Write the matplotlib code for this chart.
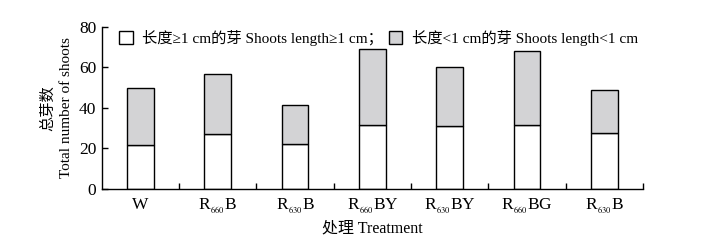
import matplotlib
matplotlib.use('Agg')
import matplotlib.pyplot as plt
import numpy as np

plt.rcParams['font.family'] = ['Liberation Serif', 'Noto Sans CJK SC']
plt.rcParams['mathtext.fontset'] = 'stix'

treatments = ["W", r"R$_{_{660}}$B", r"R$_{_{630}}$B", r"R$_{_{660}}$BY",
              r"R$_{_{630}}$BY", r"R$_{_{660}}$BG", r"R$_{_{630}}$B"]
long_shoots = [21.5, 27, 22, 31.4, 31, 31.4, 27.5]
total_shoots = [49.7, 56.6, 41.3, 69, 60.1, 68, 48.9]
short_shoots = [t - l for t, l in zip(total_shoots, long_shoots)]

label_long = "长度≥1 cm的芽 Shoots length≥1 cm；"
label_short = "长度<1 cm的芽 Shoots length<1 cm"

fig = plt.figure(figsize=(7.17, 2.41), dpi=100)
ax = fig.add_axes([0.142, 0.216, 0.755, 0.672])

x = np.arange(len(treatments))
ax.bar(x, long_shoots, width=0.345, color='white', edgecolor='black',
       linewidth=1.0, label=label_long)
ax.bar(x, short_shoots, width=0.345, bottom=long_shoots, color='#d3d3d5',
       edgecolor='black', linewidth=1.0, label=label_short)

ax.set_xlim(-0.5, len(treatments) - 0.5)
ax.set_ylim(0, 80)
ax.set_yticks([0, 20, 40, 60, 80])
ax.set_xticks(x)
ax.set_xticklabels(treatments, fontsize=12.5)
ax.tick_params(axis='x', which='major', length=0, pad=6)
ax.set_xticks(np.arange(0.5, len(treatments)), minor=True)
ax.tick_params(axis='x', which='minor', direction='in', length=4, width=1)
ax.tick_params(axis='y', direction='in', length=4, width=1, labelsize=12.5,
               pad=4)

for s in ['top', 'right']:
    ax.spines[s].set_visible(False)
for s in ['left', 'bottom']:
    ax.spines[s].set_linewidth(1.0)

ax.set_ylabel("总芽数\nTotal number of shoots", fontsize=11, labelpad=4,
              linespacing=1.5)
ax.set_xlabel("处理 Treatment", fontsize=11.5, labelpad=3)

ax.legend(loc='upper left', bbox_to_anchor=(0.02, 1.02), ncol=2, frameon=False,
          fontsize=11, handlelength=0.9, handleheight=0.9, handletextpad=0.6,
          columnspacing=0.4, borderaxespad=0)

fig.savefig('out.png', dpi=100)
